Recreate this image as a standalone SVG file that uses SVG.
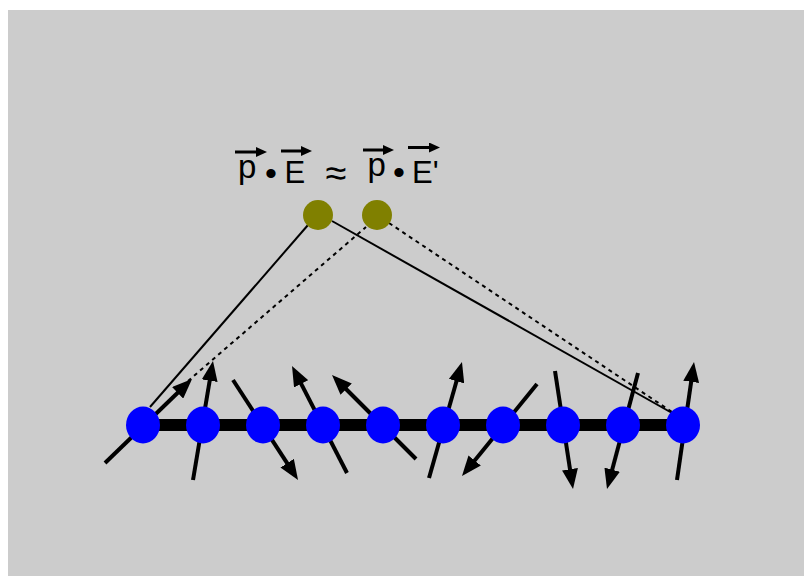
<svg xmlns="http://www.w3.org/2000/svg" width="804" height="576" viewBox="0 0 804 576">
  <style>
    .lbl { font-family: "Liberation Sans", Arial, sans-serif; fill: #000; }
    .spin { stroke: #000; stroke-width: 4; fill: none; marker-end: url(#head); }
    .vec { stroke: #000; stroke-width: 3; fill: none; marker-end: url(#vhead); }
    .site { fill: #0000ff; }
    .dip { fill: #808000; }
    .link { stroke: #000; stroke-width: 2; fill: none; }
    .link.dash { stroke-dasharray: 4 4; }
  </style>
  <defs>
    <!-- arrowhead tip sits 12px beyond the line end so the stroke stays inside -->
    <marker id="head" markerUnits="userSpaceOnUse" viewBox="0 0 20 16" refX="8" refY="8" markerWidth="20" markerHeight="16" orient="auto">
      <path d="M0,0 L20,8 L0,16 Z" fill="#000"/>
    </marker>
    <marker id="vhead" markerUnits="userSpaceOnUse" viewBox="0 0 11 10" refX="5" refY="5" markerWidth="11" markerHeight="10" orient="auto">
      <path d="M0,0 L11,5 L0,10 Z" fill="#000"/>
    </marker>
  </defs>

  <rect x="0" y="0" width="804" height="576" fill="#ffffff"/>
  <rect x="8" y="10" width="796" height="566" fill="#cccccc"/>

  <!-- formula: p·E ≈ p·E' -->
  <g id="formula">
    <text class="lbl" x="238" y="178" font-size="33">p</text>
    <text class="lbl" x="271" y="185" font-size="34" text-anchor="middle">•</text>
    <text class="lbl" x="284.5" y="183" font-size="31">E</text>
    <text class="lbl" x="336" y="186" font-size="38" text-anchor="middle">≈</text>
    <text class="lbl" x="367.5" y="175.5" font-size="33">p</text>
    <text class="lbl" x="399" y="184" font-size="34" text-anchor="middle">•</text>
    <text class="lbl" x="412" y="183" font-size="31">E'</text>
    <line class="vec" x1="235" y1="152" x2="261" y2="152"/>
    <line class="vec" x1="281" y1="151" x2="306" y2="151"/>
    <line class="vec" x1="363" y1="150" x2="388" y2="150"/>
    <line class="vec" x1="408" y1="147.5" x2="434" y2="147.5"/>
  </g>

  <!-- chain backbone -->
  <g id="chain">
    <line x1="143" y1="425" x2="683" y2="425" stroke="#000" stroke-width="12"/>
  </g>

  <!-- connectors between dipoles and end sites -->
  <g id="connectors">
    <line class="link" x1="150" y1="407" x2="308" y2="225"/>
    <line class="link" x1="332" y1="221" x2="672" y2="413"/>
    <line class="link dash" x1="188" y1="381" x2="366" y2="227"/>
    <line class="link dash" x1="389" y1="223" x2="672" y2="412"/>
  </g>

  <!-- spin arrows -->
  <g id="spins">
    <line class="spin" x1="105" y1="463" x2="183.4" y2="387.3"/>
    <line class="spin" x1="193" y1="480" x2="211" y2="372.8"/>
    <line class="spin" x1="233" y1="380" x2="291.5" y2="469.9"/>
    <line class="spin" x1="347" y1="473" x2="297.5" y2="376.7"/>
    <line class="spin" x1="416" y1="459" x2="340.5" y2="383.5"/>
    <line class="spin" x1="429" y1="478" x2="458.7" y2="373.5"/>
    <line class="spin" x1="537" y1="384" x2="469.6" y2="466.7"/>
    <line class="spin" x1="555" y1="371" x2="571.2" y2="477.1"/>
    <line class="spin" x1="638" y1="373" x2="610.1" y2="477.4"/>
    <line class="spin" x1="677" y1="480" x2="692.3" y2="373.9"/>
  </g>

  <!-- lattice sites -->
  <g id="site1"><ellipse class="site" cx="143" cy="425" rx="17" ry="18.5"/></g>
  <g id="site2"><ellipse class="site" cx="203" cy="425" rx="17" ry="18.5"/></g>
  <g id="site3"><ellipse class="site" cx="263" cy="425" rx="17" ry="18.5"/></g>
  <g id="site4"><ellipse class="site" cx="323" cy="425" rx="17" ry="18.5"/></g>
  <g id="site5"><ellipse class="site" cx="383" cy="425" rx="17" ry="18.5"/></g>
  <g id="site6"><ellipse class="site" cx="443" cy="425" rx="17" ry="18.5"/></g>
  <g id="site7"><ellipse class="site" cx="503" cy="425" rx="17" ry="18.5"/></g>
  <g id="site8"><ellipse class="site" cx="563" cy="425" rx="17" ry="18.5"/></g>
  <g id="site9"><ellipse class="site" cx="623" cy="425" rx="17" ry="18.5"/></g>
  <g id="site10"><ellipse class="site" cx="683" cy="425" rx="17" ry="18.5"/></g>

  <!-- dipoles -->
  <g id="dipole1"><circle class="dip" cx="318" cy="215" r="15"/></g>
  <g id="dipole2"><circle class="dip" cx="377" cy="215" r="15"/></g>
</svg>
